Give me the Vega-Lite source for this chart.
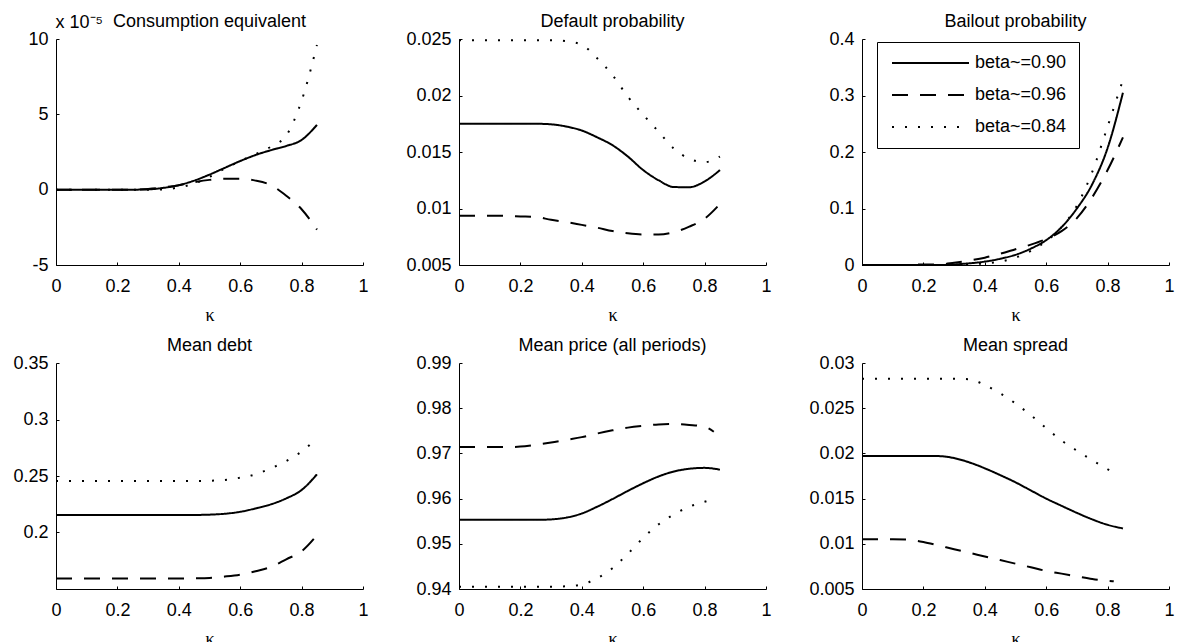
{
  "$schema": "https://vega.github.io/schema/vega-lite/v6.json",
  "background": "white",
  "padding": {"left": 12, "top": 13, "right": 0, "bottom": 0},
  "bounds": "flush",
  "columns": 3,
  "spacing": {"row": 98, "column": 96},
  "resolve": {"scale": {"strokeDash": "independent"}, "legend": {"strokeDash": "independent"}},
  "config": {
    "view": {"stroke": null},
    "font": "Liberation Sans",
    "title": {"font": "Liberation Sans", "fontSize": 18, "fontWeight": "normal", "color": "black", "baseline": "alphabetic", "offset": -1},
    "axis": {
      "domainColor": "black", "domainWidth": 1, "tickColor": "black", "tickSize": -3, "tickWidth": 1,
      "labelFont": "Liberation Sans", "labelFontSize": 18, "labelColor": "black", "grid": false,
      "labelFlush": false, "labelOverlap": false,
      "titleFont": "Liberation Serif", "titleFontSize": 18, "titleFontWeight": "normal", "titleColor": "black"
    },
    "axisX": {"labelPadding": 15, "titlePadding": 11},
    "axisY": {"labelPadding": 11},
    "line": {"color": "black", "strokeWidth": 2, "strokeCap": "butt", "interpolate": "monotone"}
  },
  "datasets": {
    "d": [
      {"panel":"ce","beta":"beta~=0.90","kappa":0,"value":0},{"panel":"ce","beta":"beta~=0.90","kappa":0.05,"value":0},{"panel":"ce","beta":"beta~=0.90","kappa":0.1,"value":0},{"panel":"ce","beta":"beta~=0.90","kappa":0.15,"value":0},{"panel":"ce","beta":"beta~=0.90","kappa":0.2,"value":0},{"panel":"ce","beta":"beta~=0.90","kappa":0.25,"value":0},{"panel":"ce","beta":"beta~=0.90","kappa":0.3,"value":0.02},{"panel":"ce","beta":"beta~=0.90","kappa":0.35,"value":0.12},{"panel":"ce","beta":"beta~=0.90","kappa":0.4,"value":0.3},{"panel":"ce","beta":"beta~=0.90","kappa":0.45,"value":0.6},{"panel":"ce","beta":"beta~=0.90","kappa":0.5,"value":1.0},{"panel":"ce","beta":"beta~=0.90","kappa":0.55,"value":1.45},{"panel":"ce","beta":"beta~=0.90","kappa":0.6,"value":1.9},{"panel":"ce","beta":"beta~=0.90","kappa":0.65,"value":2.3},{"panel":"ce","beta":"beta~=0.90","kappa":0.7,"value":2.62},{"panel":"ce","beta":"beta~=0.90","kappa":0.75,"value":2.9},{"panel":"ce","beta":"beta~=0.90","kappa":0.8,"value":3.3},{"panel":"ce","beta":"beta~=0.90","kappa":0.85,"value":4.3},
      {"panel":"ce","beta":"beta~=0.96","kappa":0,"value":0},{"panel":"ce","beta":"beta~=0.96","kappa":0.05,"value":0},{"panel":"ce","beta":"beta~=0.96","kappa":0.1,"value":0},{"panel":"ce","beta":"beta~=0.96","kappa":0.15,"value":0},{"panel":"ce","beta":"beta~=0.96","kappa":0.2,"value":0},{"panel":"ce","beta":"beta~=0.96","kappa":0.25,"value":0},{"panel":"ce","beta":"beta~=0.96","kappa":0.3,"value":0.05},{"panel":"ce","beta":"beta~=0.96","kappa":0.35,"value":0.15},{"panel":"ce","beta":"beta~=0.96","kappa":0.4,"value":0.3},{"panel":"ce","beta":"beta~=0.96","kappa":0.45,"value":0.5},{"panel":"ce","beta":"beta~=0.96","kappa":0.5,"value":0.65},{"panel":"ce","beta":"beta~=0.96","kappa":0.55,"value":0.72},{"panel":"ce","beta":"beta~=0.96","kappa":0.6,"value":0.72},{"panel":"ce","beta":"beta~=0.96","kappa":0.65,"value":0.6},{"panel":"ce","beta":"beta~=0.96","kappa":0.7,"value":0.3},{"panel":"ce","beta":"beta~=0.96","kappa":0.75,"value":-0.4},{"panel":"ce","beta":"beta~=0.96","kappa":0.8,"value":-1.3},{"panel":"ce","beta":"beta~=0.96","kappa":0.85,"value":-2.65},
      {"panel":"ce","beta":"beta~=0.84","kappa":0,"value":0},{"panel":"ce","beta":"beta~=0.84","kappa":0.05,"value":0},{"panel":"ce","beta":"beta~=0.84","kappa":0.1,"value":0},{"panel":"ce","beta":"beta~=0.84","kappa":0.15,"value":0},{"panel":"ce","beta":"beta~=0.84","kappa":0.2,"value":0},{"panel":"ce","beta":"beta~=0.84","kappa":0.25,"value":0},{"panel":"ce","beta":"beta~=0.84","kappa":0.3,"value":0},{"panel":"ce","beta":"beta~=0.84","kappa":0.35,"value":0.02},{"panel":"ce","beta":"beta~=0.84","kappa":0.4,"value":0.15},{"panel":"ce","beta":"beta~=0.84","kappa":0.45,"value":0.4},{"panel":"ce","beta":"beta~=0.84","kappa":0.5,"value":0.85},{"panel":"ce","beta":"beta~=0.84","kappa":0.55,"value":1.4},{"panel":"ce","beta":"beta~=0.84","kappa":0.6,"value":1.9},{"panel":"ce","beta":"beta~=0.84","kappa":0.65,"value":2.35},{"panel":"ce","beta":"beta~=0.84","kappa":0.7,"value":2.85},{"panel":"ce","beta":"beta~=0.84","kappa":0.75,"value":3.6},{"panel":"ce","beta":"beta~=0.84","kappa":0.8,"value":5.9},{"panel":"ce","beta":"beta~=0.84","kappa":0.85,"value":9.6},

      {"panel":"dp","beta":"beta~=0.90","kappa":0,"value":0.0175},{"panel":"dp","beta":"beta~=0.90","kappa":0.05,"value":0.0175},{"panel":"dp","beta":"beta~=0.90","kappa":0.1,"value":0.0175},{"panel":"dp","beta":"beta~=0.90","kappa":0.15,"value":0.0175},{"panel":"dp","beta":"beta~=0.90","kappa":0.2,"value":0.0175},{"panel":"dp","beta":"beta~=0.90","kappa":0.25,"value":0.0175},{"panel":"dp","beta":"beta~=0.90","kappa":0.3,"value":0.01745},{"panel":"dp","beta":"beta~=0.90","kappa":0.35,"value":0.01725},{"panel":"dp","beta":"beta~=0.90","kappa":0.4,"value":0.0169},{"panel":"dp","beta":"beta~=0.90","kappa":0.45,"value":0.0163},{"panel":"dp","beta":"beta~=0.90","kappa":0.5,"value":0.0156},{"panel":"dp","beta":"beta~=0.90","kappa":0.55,"value":0.0146},{"panel":"dp","beta":"beta~=0.90","kappa":0.6,"value":0.0134},{"panel":"dp","beta":"beta~=0.90","kappa":0.65,"value":0.0125},{"panel":"dp","beta":"beta~=0.90","kappa":0.7,"value":0.0119},{"panel":"dp","beta":"beta~=0.90","kappa":0.75,"value":0.01188},{"panel":"dp","beta":"beta~=0.90","kappa":0.8,"value":0.0124},{"panel":"dp","beta":"beta~=0.90","kappa":0.85,"value":0.0134},
      {"panel":"dp","beta":"beta~=0.96","kappa":0,"value":0.00935},{"panel":"dp","beta":"beta~=0.96","kappa":0.05,"value":0.00935},{"panel":"dp","beta":"beta~=0.96","kappa":0.1,"value":0.00935},{"panel":"dp","beta":"beta~=0.96","kappa":0.15,"value":0.00935},{"panel":"dp","beta":"beta~=0.96","kappa":0.2,"value":0.0093},{"panel":"dp","beta":"beta~=0.96","kappa":0.25,"value":0.00925},{"panel":"dp","beta":"beta~=0.96","kappa":0.3,"value":0.009},{"panel":"dp","beta":"beta~=0.96","kappa":0.35,"value":0.0088},{"panel":"dp","beta":"beta~=0.96","kappa":0.4,"value":0.00855},{"panel":"dp","beta":"beta~=0.96","kappa":0.45,"value":0.0083},{"panel":"dp","beta":"beta~=0.96","kappa":0.5,"value":0.008},{"panel":"dp","beta":"beta~=0.96","kappa":0.55,"value":0.0078},{"panel":"dp","beta":"beta~=0.96","kappa":0.6,"value":0.0077},{"panel":"dp","beta":"beta~=0.96","kappa":0.65,"value":0.0077},{"panel":"dp","beta":"beta~=0.96","kappa":0.7,"value":0.0079},{"panel":"dp","beta":"beta~=0.96","kappa":0.75,"value":0.0084},{"panel":"dp","beta":"beta~=0.96","kappa":0.8,"value":0.0091},{"panel":"dp","beta":"beta~=0.96","kappa":0.85,"value":0.0104},
      {"panel":"dp","beta":"beta~=0.84","kappa":0,"value":0.0249},{"panel":"dp","beta":"beta~=0.84","kappa":0.05,"value":0.0249},{"panel":"dp","beta":"beta~=0.84","kappa":0.1,"value":0.0249},{"panel":"dp","beta":"beta~=0.84","kappa":0.15,"value":0.0249},{"panel":"dp","beta":"beta~=0.84","kappa":0.2,"value":0.0249},{"panel":"dp","beta":"beta~=0.84","kappa":0.25,"value":0.0249},{"panel":"dp","beta":"beta~=0.84","kappa":0.3,"value":0.0249},{"panel":"dp","beta":"beta~=0.84","kappa":0.35,"value":0.0248},{"panel":"dp","beta":"beta~=0.84","kappa":0.4,"value":0.0245},{"panel":"dp","beta":"beta~=0.84","kappa":0.45,"value":0.0233},{"panel":"dp","beta":"beta~=0.84","kappa":0.5,"value":0.0218},{"panel":"dp","beta":"beta~=0.84","kappa":0.55,"value":0.0199},{"panel":"dp","beta":"beta~=0.84","kappa":0.6,"value":0.0183},{"panel":"dp","beta":"beta~=0.84","kappa":0.65,"value":0.0168},{"panel":"dp","beta":"beta~=0.84","kappa":0.7,"value":0.0153},{"panel":"dp","beta":"beta~=0.84","kappa":0.75,"value":0.0144},{"panel":"dp","beta":"beta~=0.84","kappa":0.8,"value":0.0141},{"panel":"dp","beta":"beta~=0.84","kappa":0.85,"value":0.0146},

      {"panel":"bp","beta":"beta~=0.90","kappa":0,"value":0},{"panel":"bp","beta":"beta~=0.90","kappa":0.05,"value":0},{"panel":"bp","beta":"beta~=0.90","kappa":0.1,"value":0},{"panel":"bp","beta":"beta~=0.90","kappa":0.15,"value":0},{"panel":"bp","beta":"beta~=0.90","kappa":0.2,"value":0},{"panel":"bp","beta":"beta~=0.90","kappa":0.25,"value":0},{"panel":"bp","beta":"beta~=0.90","kappa":0.3,"value":0.001},{"panel":"bp","beta":"beta~=0.90","kappa":0.35,"value":0.003},{"panel":"bp","beta":"beta~=0.90","kappa":0.4,"value":0.006},{"panel":"bp","beta":"beta~=0.90","kappa":0.45,"value":0.011},{"panel":"bp","beta":"beta~=0.90","kappa":0.5,"value":0.018},{"panel":"bp","beta":"beta~=0.90","kappa":0.55,"value":0.029},{"panel":"bp","beta":"beta~=0.90","kappa":0.6,"value":0.044},{"panel":"bp","beta":"beta~=0.90","kappa":0.65,"value":0.067},{"panel":"bp","beta":"beta~=0.90","kappa":0.7,"value":0.1},{"panel":"bp","beta":"beta~=0.90","kappa":0.75,"value":0.143},{"panel":"bp","beta":"beta~=0.90","kappa":0.8,"value":0.207},{"panel":"bp","beta":"beta~=0.90","kappa":0.85,"value":0.305},
      {"panel":"bp","beta":"beta~=0.96","kappa":0,"value":0},{"panel":"bp","beta":"beta~=0.96","kappa":0.05,"value":0},{"panel":"bp","beta":"beta~=0.96","kappa":0.1,"value":0},{"panel":"bp","beta":"beta~=0.96","kappa":0.15,"value":0},{"panel":"bp","beta":"beta~=0.96","kappa":0.2,"value":0.001},{"panel":"bp","beta":"beta~=0.96","kappa":0.25,"value":0.001},{"panel":"bp","beta":"beta~=0.96","kappa":0.3,"value":0.004},{"panel":"bp","beta":"beta~=0.96","kappa":0.35,"value":0.008},{"panel":"bp","beta":"beta~=0.96","kappa":0.4,"value":0.013},{"panel":"bp","beta":"beta~=0.96","kappa":0.45,"value":0.02},{"panel":"bp","beta":"beta~=0.96","kappa":0.5,"value":0.028},{"panel":"bp","beta":"beta~=0.96","kappa":0.55,"value":0.036},{"panel":"bp","beta":"beta~=0.96","kappa":0.6,"value":0.046},{"panel":"bp","beta":"beta~=0.96","kappa":0.65,"value":0.06},{"panel":"bp","beta":"beta~=0.96","kappa":0.7,"value":0.083},{"panel":"bp","beta":"beta~=0.96","kappa":0.75,"value":0.12},{"panel":"bp","beta":"beta~=0.96","kappa":0.8,"value":0.168},{"panel":"bp","beta":"beta~=0.96","kappa":0.85,"value":0.226},
      {"panel":"bp","beta":"beta~=0.84","kappa":0,"value":0},{"panel":"bp","beta":"beta~=0.84","kappa":0.05,"value":0},{"panel":"bp","beta":"beta~=0.84","kappa":0.1,"value":0},{"panel":"bp","beta":"beta~=0.84","kappa":0.15,"value":0},{"panel":"bp","beta":"beta~=0.84","kappa":0.2,"value":0},{"panel":"bp","beta":"beta~=0.84","kappa":0.25,"value":0},{"panel":"bp","beta":"beta~=0.84","kappa":0.3,"value":0},{"panel":"bp","beta":"beta~=0.84","kappa":0.35,"value":0.001},{"panel":"bp","beta":"beta~=0.84","kappa":0.4,"value":0.003},{"panel":"bp","beta":"beta~=0.84","kappa":0.45,"value":0.006},{"panel":"bp","beta":"beta~=0.84","kappa":0.5,"value":0.013},{"panel":"bp","beta":"beta~=0.84","kappa":0.55,"value":0.025},{"panel":"bp","beta":"beta~=0.84","kappa":0.6,"value":0.042},{"panel":"bp","beta":"beta~=0.84","kappa":0.65,"value":0.067},{"panel":"bp","beta":"beta~=0.84","kappa":0.7,"value":0.105},{"panel":"bp","beta":"beta~=0.84","kappa":0.75,"value":0.165},{"panel":"bp","beta":"beta~=0.84","kappa":0.8,"value":0.245},{"panel":"bp","beta":"beta~=0.84","kappa":0.85,"value":0.328},

      {"panel":"md","beta":"beta~=0.90","kappa":0,"value":0.2154},{"panel":"md","beta":"beta~=0.90","kappa":0.05,"value":0.2154},{"panel":"md","beta":"beta~=0.90","kappa":0.1,"value":0.2154},{"panel":"md","beta":"beta~=0.90","kappa":0.15,"value":0.2154},{"panel":"md","beta":"beta~=0.90","kappa":0.2,"value":0.2154},{"panel":"md","beta":"beta~=0.90","kappa":0.25,"value":0.2154},{"panel":"md","beta":"beta~=0.90","kappa":0.3,"value":0.2154},{"panel":"md","beta":"beta~=0.90","kappa":0.35,"value":0.2154},{"panel":"md","beta":"beta~=0.90","kappa":0.4,"value":0.2154},{"panel":"md","beta":"beta~=0.90","kappa":0.45,"value":0.2155},{"panel":"md","beta":"beta~=0.90","kappa":0.5,"value":0.2158},{"panel":"md","beta":"beta~=0.90","kappa":0.55,"value":0.2166},{"panel":"md","beta":"beta~=0.90","kappa":0.6,"value":0.2183},{"panel":"md","beta":"beta~=0.90","kappa":0.65,"value":0.2213},{"panel":"md","beta":"beta~=0.90","kappa":0.7,"value":0.2249},{"panel":"md","beta":"beta~=0.90","kappa":0.75,"value":0.2302},{"panel":"md","beta":"beta~=0.90","kappa":0.8,"value":0.2376},{"panel":"md","beta":"beta~=0.90","kappa":0.85,"value":0.2515},
      {"panel":"md","beta":"beta~=0.96","kappa":0,"value":0.1592},{"panel":"md","beta":"beta~=0.96","kappa":0.05,"value":0.1592},{"panel":"md","beta":"beta~=0.96","kappa":0.1,"value":0.1592},{"panel":"md","beta":"beta~=0.96","kappa":0.15,"value":0.1592},{"panel":"md","beta":"beta~=0.96","kappa":0.2,"value":0.1592},{"panel":"md","beta":"beta~=0.96","kappa":0.25,"value":0.1592},{"panel":"md","beta":"beta~=0.96","kappa":0.3,"value":0.1592},{"panel":"md","beta":"beta~=0.96","kappa":0.35,"value":0.1592},{"panel":"md","beta":"beta~=0.96","kappa":0.4,"value":0.1592},{"panel":"md","beta":"beta~=0.96","kappa":0.45,"value":0.1594},{"panel":"md","beta":"beta~=0.96","kappa":0.5,"value":0.1598},{"panel":"md","beta":"beta~=0.96","kappa":0.55,"value":0.161},{"panel":"md","beta":"beta~=0.96","kappa":0.6,"value":0.1627},{"panel":"md","beta":"beta~=0.96","kappa":0.65,"value":0.1657},{"panel":"md","beta":"beta~=0.96","kappa":0.7,"value":0.1695},{"panel":"md","beta":"beta~=0.96","kappa":0.75,"value":0.1763},{"panel":"md","beta":"beta~=0.96","kappa":0.8,"value":0.1834},{"panel":"md","beta":"beta~=0.96","kappa":0.85,"value":0.1976},
      {"panel":"md","beta":"beta~=0.84","kappa":0,"value":0.2456},{"panel":"md","beta":"beta~=0.84","kappa":0.05,"value":0.2456},{"panel":"md","beta":"beta~=0.84","kappa":0.1,"value":0.2456},{"panel":"md","beta":"beta~=0.84","kappa":0.15,"value":0.2456},{"panel":"md","beta":"beta~=0.84","kappa":0.2,"value":0.2456},{"panel":"md","beta":"beta~=0.84","kappa":0.25,"value":0.2456},{"panel":"md","beta":"beta~=0.84","kappa":0.3,"value":0.2456},{"panel":"md","beta":"beta~=0.84","kappa":0.35,"value":0.2456},{"panel":"md","beta":"beta~=0.84","kappa":0.4,"value":0.2456},{"panel":"md","beta":"beta~=0.84","kappa":0.45,"value":0.2456},{"panel":"md","beta":"beta~=0.84","kappa":0.5,"value":0.2458},{"panel":"md","beta":"beta~=0.84","kappa":0.55,"value":0.2465},{"panel":"md","beta":"beta~=0.84","kappa":0.6,"value":0.2485},{"panel":"md","beta":"beta~=0.84","kappa":0.65,"value":0.2515},{"panel":"md","beta":"beta~=0.84","kappa":0.7,"value":0.2568},{"panel":"md","beta":"beta~=0.84","kappa":0.75,"value":0.2633},{"panel":"md","beta":"beta~=0.84","kappa":0.8,"value":0.2716},{"panel":"md","beta":"beta~=0.84","kappa":0.85,"value":0.2834},

      {"panel":"mp","beta":"beta~=0.90","kappa":0,"value":0.9553},{"panel":"mp","beta":"beta~=0.90","kappa":0.05,"value":0.9553},{"panel":"mp","beta":"beta~=0.90","kappa":0.1,"value":0.9553},{"panel":"mp","beta":"beta~=0.90","kappa":0.15,"value":0.9553},{"panel":"mp","beta":"beta~=0.90","kappa":0.2,"value":0.9553},{"panel":"mp","beta":"beta~=0.90","kappa":0.25,"value":0.9553},{"panel":"mp","beta":"beta~=0.90","kappa":0.3,"value":0.9554},{"panel":"mp","beta":"beta~=0.90","kappa":0.35,"value":0.9558},{"panel":"mp","beta":"beta~=0.90","kappa":0.4,"value":0.9567},{"panel":"mp","beta":"beta~=0.90","kappa":0.45,"value":0.9582},{"panel":"mp","beta":"beta~=0.90","kappa":0.5,"value":0.9599},{"panel":"mp","beta":"beta~=0.90","kappa":0.55,"value":0.9617},{"panel":"mp","beta":"beta~=0.90","kappa":0.6,"value":0.9634},{"panel":"mp","beta":"beta~=0.90","kappa":0.65,"value":0.9649},{"panel":"mp","beta":"beta~=0.90","kappa":0.7,"value":0.966},{"panel":"mp","beta":"beta~=0.90","kappa":0.75,"value":0.9666},{"panel":"mp","beta":"beta~=0.90","kappa":0.8,"value":0.9668},{"panel":"mp","beta":"beta~=0.90","kappa":0.85,"value":0.9664},
      {"panel":"mp","beta":"beta~=0.96","kappa":0,"value":0.9714},{"panel":"mp","beta":"beta~=0.96","kappa":0.05,"value":0.9714},{"panel":"mp","beta":"beta~=0.96","kappa":0.1,"value":0.9714},{"panel":"mp","beta":"beta~=0.96","kappa":0.15,"value":0.9714},{"panel":"mp","beta":"beta~=0.96","kappa":0.2,"value":0.9715},{"panel":"mp","beta":"beta~=0.96","kappa":0.25,"value":0.9719},{"panel":"mp","beta":"beta~=0.96","kappa":0.3,"value":0.9724},{"panel":"mp","beta":"beta~=0.96","kappa":0.35,"value":0.973},{"panel":"mp","beta":"beta~=0.96","kappa":0.4,"value":0.9736},{"panel":"mp","beta":"beta~=0.96","kappa":0.45,"value":0.9744},{"panel":"mp","beta":"beta~=0.96","kappa":0.5,"value":0.9751},{"panel":"mp","beta":"beta~=0.96","kappa":0.55,"value":0.9757},{"panel":"mp","beta":"beta~=0.96","kappa":0.6,"value":0.9761},{"panel":"mp","beta":"beta~=0.96","kappa":0.65,"value":0.9764},{"panel":"mp","beta":"beta~=0.96","kappa":0.7,"value":0.9765},{"panel":"mp","beta":"beta~=0.96","kappa":0.75,"value":0.9763},{"panel":"mp","beta":"beta~=0.96","kappa":0.8,"value":0.9759},{"panel":"mp","beta":"beta~=0.96","kappa":0.83,"value":0.9748},
      {"panel":"mp","beta":"beta~=0.84","kappa":0,"value":0.9405},{"panel":"mp","beta":"beta~=0.84","kappa":0.05,"value":0.9405},{"panel":"mp","beta":"beta~=0.84","kappa":0.1,"value":0.9405},{"panel":"mp","beta":"beta~=0.84","kappa":0.15,"value":0.9405},{"panel":"mp","beta":"beta~=0.84","kappa":0.2,"value":0.9405},{"panel":"mp","beta":"beta~=0.84","kappa":0.25,"value":0.9405},{"panel":"mp","beta":"beta~=0.84","kappa":0.3,"value":0.9405},{"panel":"mp","beta":"beta~=0.84","kappa":0.35,"value":0.9406},{"panel":"mp","beta":"beta~=0.84","kappa":0.4,"value":0.941},{"panel":"mp","beta":"beta~=0.84","kappa":0.45,"value":0.9424},{"panel":"mp","beta":"beta~=0.84","kappa":0.5,"value":0.9446},{"panel":"mp","beta":"beta~=0.84","kappa":0.55,"value":0.9478},{"panel":"mp","beta":"beta~=0.84","kappa":0.6,"value":0.9513},{"panel":"mp","beta":"beta~=0.84","kappa":0.65,"value":0.9543},{"panel":"mp","beta":"beta~=0.84","kappa":0.7,"value":0.9565},{"panel":"mp","beta":"beta~=0.84","kappa":0.75,"value":0.9582},{"panel":"mp","beta":"beta~=0.84","kappa":0.8,"value":0.9593},{"panel":"mp","beta":"beta~=0.84","kappa":0.83,"value":0.9599},

      {"panel":"ms","beta":"beta~=0.90","kappa":0,"value":0.0197},{"panel":"ms","beta":"beta~=0.90","kappa":0.05,"value":0.0197},{"panel":"ms","beta":"beta~=0.90","kappa":0.1,"value":0.0197},{"panel":"ms","beta":"beta~=0.90","kappa":0.15,"value":0.0197},{"panel":"ms","beta":"beta~=0.90","kappa":0.2,"value":0.0197},{"panel":"ms","beta":"beta~=0.90","kappa":0.25,"value":0.0197},{"panel":"ms","beta":"beta~=0.90","kappa":0.3,"value":0.01948},{"panel":"ms","beta":"beta~=0.90","kappa":0.35,"value":0.019},{"panel":"ms","beta":"beta~=0.90","kappa":0.4,"value":0.01835},{"panel":"ms","beta":"beta~=0.90","kappa":0.45,"value":0.0176},{"panel":"ms","beta":"beta~=0.90","kappa":0.5,"value":0.0168},{"panel":"ms","beta":"beta~=0.90","kappa":0.55,"value":0.0159},{"panel":"ms","beta":"beta~=0.90","kappa":0.6,"value":0.015},{"panel":"ms","beta":"beta~=0.90","kappa":0.65,"value":0.0142},{"panel":"ms","beta":"beta~=0.90","kappa":0.7,"value":0.01342},{"panel":"ms","beta":"beta~=0.90","kappa":0.75,"value":0.0127},{"panel":"ms","beta":"beta~=0.90","kappa":0.8,"value":0.0121},{"panel":"ms","beta":"beta~=0.90","kappa":0.85,"value":0.0117},
      {"panel":"ms","beta":"beta~=0.96","kappa":0,"value":0.0105},{"panel":"ms","beta":"beta~=0.96","kappa":0.05,"value":0.0105},{"panel":"ms","beta":"beta~=0.96","kappa":0.1,"value":0.0105},{"panel":"ms","beta":"beta~=0.96","kappa":0.15,"value":0.01045},{"panel":"ms","beta":"beta~=0.96","kappa":0.2,"value":0.0102},{"panel":"ms","beta":"beta~=0.96","kappa":0.25,"value":0.0098},{"panel":"ms","beta":"beta~=0.96","kappa":0.3,"value":0.0094},{"panel":"ms","beta":"beta~=0.96","kappa":0.35,"value":0.009},{"panel":"ms","beta":"beta~=0.96","kappa":0.4,"value":0.0086},{"panel":"ms","beta":"beta~=0.96","kappa":0.45,"value":0.0082},{"panel":"ms","beta":"beta~=0.96","kappa":0.5,"value":0.0078},{"panel":"ms","beta":"beta~=0.96","kappa":0.55,"value":0.0074},{"panel":"ms","beta":"beta~=0.96","kappa":0.6,"value":0.007},{"panel":"ms","beta":"beta~=0.96","kappa":0.65,"value":0.0067},{"panel":"ms","beta":"beta~=0.96","kappa":0.7,"value":0.0064},{"panel":"ms","beta":"beta~=0.96","kappa":0.75,"value":0.0061},{"panel":"ms","beta":"beta~=0.96","kappa":0.8,"value":0.0059},{"panel":"ms","beta":"beta~=0.96","kappa":0.82,"value":0.00585},
      {"panel":"ms","beta":"beta~=0.84","kappa":0,"value":0.02825},{"panel":"ms","beta":"beta~=0.84","kappa":0.05,"value":0.02825},{"panel":"ms","beta":"beta~=0.84","kappa":0.1,"value":0.02825},{"panel":"ms","beta":"beta~=0.84","kappa":0.15,"value":0.02825},{"panel":"ms","beta":"beta~=0.84","kappa":0.2,"value":0.02825},{"panel":"ms","beta":"beta~=0.84","kappa":0.25,"value":0.02825},{"panel":"ms","beta":"beta~=0.84","kappa":0.3,"value":0.02825},{"panel":"ms","beta":"beta~=0.84","kappa":0.35,"value":0.0282},{"panel":"ms","beta":"beta~=0.84","kappa":0.4,"value":0.02757},{"panel":"ms","beta":"beta~=0.84","kappa":0.45,"value":0.02664},{"panel":"ms","beta":"beta~=0.84","kappa":0.5,"value":0.02552},{"panel":"ms","beta":"beta~=0.84","kappa":0.55,"value":0.02422},{"panel":"ms","beta":"beta~=0.84","kappa":0.6,"value":0.0228},{"panel":"ms","beta":"beta~=0.84","kappa":0.65,"value":0.02142},{"panel":"ms","beta":"beta~=0.84","kappa":0.7,"value":0.0203},{"panel":"ms","beta":"beta~=0.84","kappa":0.75,"value":0.01925},{"panel":"ms","beta":"beta~=0.84","kappa":0.8,"value":0.01825},{"panel":"ms","beta":"beta~=0.84","kappa":0.82,"value":0.0178}
    ]
  },
  "concat": [
    {
      "width": 307, "height": 226,
      "title": {"text": "Consumption equivalent", "offset": -18},
      "data": {"name": "d"},
      "transform": [{"filter": "datum.panel === 'ce'"}],
      "mark": {"type": "line"},
      "encoding": {
        "x": {"field": "kappa", "type": "quantitative", "scale": {"domain": [0, 1], "nice": false}, "axis": {"values": [0, 0.2, 0.4, 0.6, 0.8, 1], "format": "~g", "title": "κ"}},
        "y": {"field": "value", "type": "quantitative", "scale": {"domain": [-5, 10], "nice": false, "zero": false}, "axis": {"values": [-5, 0, 5, 10], "format": "~r", "labelExpr": "replace(datum.label, '−', '-')", "title": "x 10⁻⁵", "titleFont": "Liberation Sans", "titleAngle": 0, "titleAlign": "left", "titleBaseline": "alphabetic", "titleX": -1, "titleY": -12}},
        "strokeDash": {"field": "beta", "type": "nominal", "scale": {"domain": ["beta~=0.90", "beta~=0.96", "beta~=0.84"], "range": [[1, 0], [16, 12], [2, 11]]}, "legend": null}
      }
    },
    {
      "width": 307, "height": 226,
      "title": {"text": "Default probability"},
      "data": {"name": "d"},
      "transform": [{"filter": "datum.panel === 'dp'"}],
      "mark": {"type": "line"},
      "encoding": {
        "x": {"field": "kappa", "type": "quantitative", "scale": {"domain": [0, 1], "nice": false}, "axis": {"values": [0, 0.2, 0.4, 0.6, 0.8, 1], "format": "~g", "title": "κ"}},
        "y": {"field": "value", "type": "quantitative", "scale": {"domain": [0.005, 0.025], "nice": false, "zero": false}, "axis": {"values": [0.005, 0.01, 0.015, 0.02, 0.025], "format": "~g", "title": null}},
        "strokeDash": {"field": "beta", "type": "nominal", "scale": {"domain": ["beta~=0.90", "beta~=0.96", "beta~=0.84"], "range": [[1, 0], [16, 12], [2, 11]]}, "legend": null}
      }
    },
    {
      "width": 307, "height": 226,
      "title": {"text": "Bailout probability"},
      "data": {"name": "d"},
      "transform": [{"filter": "datum.panel === 'bp'"}],
      "mark": {"type": "line"},
      "encoding": {
        "x": {"field": "kappa", "type": "quantitative", "scale": {"domain": [0, 1], "nice": false}, "axis": {"values": [0, 0.2, 0.4, 0.6, 0.8, 1], "format": "~g", "title": "κ"}},
        "y": {"field": "value", "type": "quantitative", "scale": {"domain": [0, 0.4], "nice": false, "zero": false}, "axis": {"values": [0, 0.1, 0.2, 0.3, 0.4], "format": "~g", "title": null}},
        "strokeDash": {"field": "beta", "type": "nominal", "scale": {"domain": ["beta~=0.90", "beta~=0.96", "beta~=0.84"], "range": [[1, 0], [16, 12], [2, 11]]},
          "legend": {"orient": "none", "legendX": 15, "legendY": 3, "title": null, "symbolType": "stroke", "symbolSize": 5929, "symbolStrokeWidth": 2, "symbolStrokeColor": "black", "clipHeight": 18, "labelFont": "Liberation Sans", "labelFontSize": 18, "labelColor": "black", "labelOffset": 5, "symbolOffset": 2, "rowPadding": 14, "padding": 12, "strokeColor": "black", "fillColor": "white", "labelLimit": 300}}
      }
    },
    {
      "width": 307, "height": 226,
      "title": {"text": "Mean debt"},
      "data": {"name": "d"},
      "transform": [{"filter": "datum.panel === 'md'"}],
      "mark": {"type": "line"},
      "encoding": {
        "x": {"field": "kappa", "type": "quantitative", "scale": {"domain": [0, 1], "nice": false}, "axis": {"values": [0, 0.2, 0.4, 0.6, 0.8, 1], "format": "~g", "title": "κ"}},
        "y": {"field": "value", "type": "quantitative", "scale": {"domain": [0.15, 0.35], "nice": false, "zero": false}, "axis": {"values": [0.2, 0.25, 0.3, 0.35], "format": "~g", "title": null}},
        "strokeDash": {"field": "beta", "type": "nominal", "scale": {"domain": ["beta~=0.90", "beta~=0.96", "beta~=0.84"], "range": [[1, 0], [16, 12], [2, 11]]}, "legend": null}
      }
    },
    {
      "width": 307, "height": 226,
      "title": {"text": "Mean price (all periods)"},
      "data": {"name": "d"},
      "transform": [{"filter": "datum.panel === 'mp'"}],
      "mark": {"type": "line"},
      "encoding": {
        "x": {"field": "kappa", "type": "quantitative", "scale": {"domain": [0, 1], "nice": false}, "axis": {"values": [0, 0.2, 0.4, 0.6, 0.8, 1], "format": "~g", "title": "κ"}},
        "y": {"field": "value", "type": "quantitative", "scale": {"domain": [0.94, 0.99], "nice": false, "zero": false}, "axis": {"values": [0.94, 0.95, 0.96, 0.97, 0.98, 0.99], "format": "~g", "title": null}},
        "strokeDash": {"field": "beta", "type": "nominal", "scale": {"domain": ["beta~=0.90", "beta~=0.96", "beta~=0.84"], "range": [[1, 0], [16, 12], [2, 11]]}, "legend": null}
      }
    },
    {
      "width": 307, "height": 226,
      "title": {"text": "Mean spread"},
      "data": {"name": "d"},
      "transform": [{"filter": "datum.panel === 'ms'"}],
      "mark": {"type": "line"},
      "encoding": {
        "x": {"field": "kappa", "type": "quantitative", "scale": {"domain": [0, 1], "nice": false}, "axis": {"values": [0, 0.2, 0.4, 0.6, 0.8, 1], "format": "~g", "title": "κ"}},
        "y": {"field": "value", "type": "quantitative", "scale": {"domain": [0.005, 0.03], "nice": false, "zero": false}, "axis": {"values": [0.005, 0.01, 0.015, 0.02, 0.025, 0.03], "format": "~g", "title": null}},
        "strokeDash": {"field": "beta", "type": "nominal", "scale": {"domain": ["beta~=0.90", "beta~=0.96", "beta~=0.84"], "range": [[1, 0], [16, 12], [2, 11]]}, "legend": null}
      }
    }
  ]
}
